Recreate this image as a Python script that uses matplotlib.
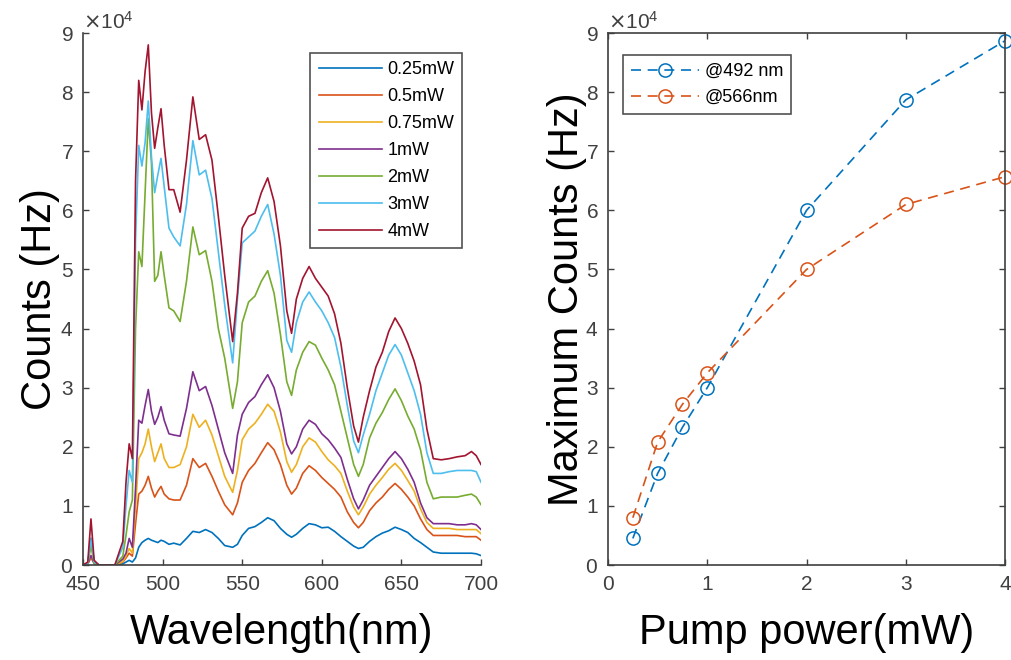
import numpy as np
import matplotlib
matplotlib.use("Agg")
import matplotlib.pyplot as plt
from matplotlib.ticker import ScalarFormatter

plt.rcParams['font.family'] = ['Liberation Sans', 'DejaVu Sans']

# emission spectra, counts in units of 1e4 Hz
wavelength = [450, 453, 455, 457, 460, 470, 475, 477, 479, 481,
              483, 485, 487, 489, 491, 493, 495, 497, 499, 501,
              504, 507, 511, 515, 519, 523, 527, 531, 535, 539,
              544, 547, 550, 554, 558, 562, 566, 570, 574, 578,
              581, 584, 588, 592, 596, 600, 604, 608, 612, 616,
              620, 623, 626, 630, 634, 638, 642, 646, 650, 654,
              658, 662, 666, 670, 675, 680, 685, 690, 694, 697, 700]

p025 = [0.0, 0.02, 0.45, 0.05, 0.0, 0.0, 0.02, 0.05, 0.08, 0.05,
        0.12, 0.3, 0.38, 0.42, 0.45, 0.42, 0.4, 0.38, 0.42, 0.4,
        0.35, 0.37, 0.34, 0.45, 0.57, 0.55, 0.6, 0.55, 0.45, 0.33,
        0.3, 0.35, 0.5, 0.62, 0.65, 0.72, 0.8, 0.75, 0.62, 0.52,
        0.47, 0.52, 0.62, 0.7, 0.68, 0.63, 0.64, 0.57, 0.48, 0.4,
        0.32, 0.28, 0.3, 0.4, 0.48, 0.54, 0.58, 0.64, 0.6, 0.55,
        0.45, 0.38, 0.3, 0.22, 0.2, 0.2, 0.2, 0.2, 0.2, 0.19, 0.16]

p05 = [0.0, 0.02, 0.12, 0.03, 0.0, 0.0, 0.05, 0.12, 0.2, 0.15,
       0.7, 1.2, 1.25, 1.35, 1.5, 1.3, 1.15, 1.25, 1.33, 1.2,
       1.12, 1.1, 1.1, 1.35, 1.8, 1.65, 1.72, 1.5, 1.25, 1.02,
       0.85, 1.05, 1.4, 1.6, 1.72, 1.9, 2.07, 1.95, 1.7, 1.35,
       1.2, 1.3, 1.55, 1.68, 1.6, 1.48, 1.38, 1.28, 1.15, 0.9,
       0.72, 0.63, 0.72, 0.92, 1.05, 1.15, 1.28, 1.38, 1.28, 1.15,
       1.0, 0.78, 0.6, 0.5, 0.5, 0.5, 0.5, 0.48, 0.48, 0.48, 0.42]

p075 = [0.0, 0.02, 0.15, 0.03, 0.0, 0.0, 0.06, 0.15, 0.28, 0.2,
        1.0, 1.8, 1.9, 2.05, 2.3, 2.0, 1.75, 1.9, 2.05, 1.8,
        1.65, 1.65, 1.7, 2.0, 2.55, 2.33, 2.45, 2.2, 1.85, 1.5,
        1.23, 1.6, 2.12, 2.3, 2.4, 2.55, 2.72, 2.6, 2.25, 1.75,
        1.57, 1.7, 2.0, 2.15, 2.08, 1.92, 1.78, 1.68, 1.55, 1.25,
        0.98, 0.85, 0.98, 1.2, 1.35, 1.48, 1.62, 1.72, 1.6, 1.43,
        1.25, 0.95, 0.72, 0.62, 0.62, 0.62, 0.6, 0.6, 0.6, 0.6, 0.53]

p1 = [0.0, 0.02, 0.16, 0.03, 0.0, 0.0, 0.1, 0.2, 0.45, 0.3,
      1.3, 2.45, 2.4, 2.7, 2.97, 2.6, 2.38, 2.5, 2.68, 2.45,
      2.22, 2.2, 2.18, 2.65, 3.27, 2.95, 3.02, 2.7, 2.3, 1.9,
      1.55, 2.2, 2.55, 2.75, 2.85, 3.05, 3.22, 3.0, 2.6, 2.05,
      1.88, 2.0, 2.3, 2.45, 2.38, 2.22, 2.12, 1.98, 1.82, 1.45,
      1.12, 0.95, 1.1, 1.35, 1.5, 1.65, 1.8, 1.92, 1.8, 1.62,
      1.4, 1.05, 0.8, 0.7, 0.7, 0.7, 0.68, 0.68, 0.7, 0.68, 0.6]

p2 = [0.0, 0.02, 0.33, 0.03, 0.0, 0.0, 0.15, 0.5, 0.9, 1.1,
      4.0, 5.3, 5.05, 6.3, 7.55, 6.8, 4.8, 4.9, 5.3, 4.9,
      4.35, 4.3, 4.12, 4.8, 5.72, 5.25, 5.32, 4.8, 4.0, 3.5,
      2.65, 3.1, 4.1, 4.45, 4.55, 4.8, 4.98, 4.6, 3.9, 3.1,
      2.87, 3.3, 3.6, 3.78, 3.72, 3.5, 3.3, 3.05, 2.6, 2.15,
      1.7, 1.5, 1.7, 2.15, 2.4, 2.58, 2.8, 2.98, 2.78, 2.52,
      2.3, 1.95, 1.4, 1.12, 1.15, 1.15, 1.15, 1.18, 1.2, 1.15, 1.02]

p3 = [0.0, 0.02, 0.45, 0.05, 0.0, 0.0, 0.3, 1.0, 1.6, 1.4,
      5.5, 7.1, 6.75, 7.15, 7.85, 6.9, 6.3, 6.6, 6.88, 6.4,
      5.7, 5.55, 5.4, 6.1, 7.18, 6.6, 6.68, 6.2, 5.3, 4.4,
      3.42, 4.5, 5.45, 5.55, 5.65, 5.9, 6.1, 5.6, 4.9, 3.8,
      3.6, 4.1, 4.45, 4.62, 4.45, 4.3, 4.1, 3.85, 3.35, 2.7,
      2.1, 1.9, 2.2, 2.55, 2.95, 3.25, 3.55, 3.73, 3.55, 3.25,
      2.95, 2.55, 1.9, 1.55, 1.55, 1.58, 1.6, 1.6, 1.6, 1.58, 1.4]

p4 = [0.0, 0.05, 0.78, 0.08, 0.0, 0.0, 0.4, 1.4, 2.05, 1.8,
      6.5, 8.2, 7.7, 8.35, 8.8, 7.65, 7.05, 7.4, 7.72, 7.1,
      6.35, 6.35, 5.97, 6.85, 7.92, 7.2, 7.28, 6.85, 5.9, 4.9,
      3.78, 4.6, 5.7, 5.9, 5.95, 6.3, 6.55, 6.15, 5.4, 4.3,
      3.92, 4.5, 4.85, 5.05, 4.85, 4.7, 4.55, 4.25, 3.75, 3.0,
      2.35, 2.08, 2.5, 2.95, 3.35, 3.6, 3.95, 4.18, 4.0, 3.75,
      3.45, 3.05, 2.3, 1.8, 1.78, 1.8, 1.83, 1.85, 1.92, 1.85, 1.7]

spectra = [p025, p05, p075, p1, p2, p3, p4]
spectra_labels = ['0.25mW', '0.5mW', '0.75mW', '1mW', '2mW', '3mW', '4mW']

# peak counts versus pump power, units of 1e4 Hz
pump_power = [0.25, 0.5, 0.75, 1, 2, 3, 4]
peak_492 = [0.45, 1.55, 2.33, 3.0, 6.0, 7.87, 8.87]
peak_566 = [0.8, 2.08, 2.72, 3.25, 5.0, 6.1, 6.57]

colors = ['#0072BD', '#D95319', '#EDB120', '#7E2F8E',
          '#77AC30', '#4DBEEE', '#A2142F']
axis_color = '#404040'

fig = plt.figure(figsize=(10.11, 6.6), dpi=100)
ax1 = fig.add_axes([0.0821, 0.1439, 0.3937, 0.806])
ax2 = fig.add_axes([0.6014, 0.1439, 0.3927, 0.806])

wl = np.array(wavelength)
for vals, lab, col in zip(spectra, spectra_labels, colors):
    ax1.plot(wl, np.array(vals) * 1e4, color=col, lw=1.2, label=lab)

ax2.plot(pump_power, np.array(peak_492) * 1e4, color=colors[0], lw=1.2,
         dashes=(6, 4), marker='o', ms=9.5, mfc='none', mew=1.1,
         label='@492 nm', clip_on=False)
ax2.plot(pump_power, np.array(peak_566) * 1e4, color=colors[1], lw=1.2,
         dashes=(6, 4), marker='o', ms=9.5, mfc='none', mew=1.1,
         label='@566nm', clip_on=False)

ax1.set_xlim(450, 700)
ax1.set_xticks([450, 500, 550, 600, 650, 700])
ax2.set_xlim(0, 4)
ax2.set_xticks([0, 1, 2, 3, 4])

for ax in (ax1, ax2):
    ax.set_ylim(0, 9e4)
    ax.set_yticks(np.arange(0, 10) * 1e4)
    fmt = ScalarFormatter(useMathText=True)
    fmt.set_powerlimits((4, 4))
    ax.yaxis.set_major_formatter(fmt)
    ax.yaxis.get_offset_text().set_fontsize(15)
    ax.yaxis.get_offset_text().set_color(axis_color)
    ax.tick_params(direction='in', length=4, width=1, labelsize=15,
                   colors=axis_color, pad=7)
    for s in ax.spines.values():
        s.set_color(axis_color)
        s.set_linewidth(1.2)

# left panel has no box
ax1.spines['top'].set_visible(False)
ax1.spines['right'].set_visible(False)
# right panel box with ticks on every side
ax2.tick_params(top=True, right=True)

ax1.set_xlabel('Wavelength(nm)', fontsize=30, labelpad=14)
ax1.set_ylabel('Counts (Hz)', fontsize=30, labelpad=0)
ax2.set_xlabel('Pump power(mW)', fontsize=30, labelpad=14)
ax2.set_ylabel('Maximum Counts (Hz)', fontsize=30, labelpad=-1)

leg1 = ax1.legend(loc='upper right', bbox_to_anchor=(0.953, 0.962),
                  fontsize=13, frameon=True, fancybox=False,
                  edgecolor='#262626', handlelength=3.5, handletextpad=0.3,
                  labelspacing=0.55, borderpad=0.45, borderaxespad=0)
leg1.get_frame().set_linewidth(1.2)

leg2 = ax2.legend(loc='upper left', bbox_to_anchor=(0.037, 0.959),
                  fontsize=13, frameon=True, fancybox=False,
                  edgecolor='#262626', handlelength=3.8, handletextpad=0.3,
                  labelspacing=0.5, borderpad=0.45, borderaxespad=0,
                  numpoints=1)
leg2.get_frame().set_linewidth(1.2)

fig.savefig('out.png', dpi=100)
